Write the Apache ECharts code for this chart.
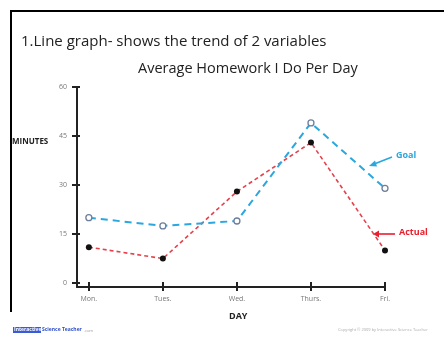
<!DOCTYPE html>
<html>
<head>
<meta charset="utf-8">
<script src="https://cdn.jsdelivr.net/npm/echarts@6/dist/echarts.min.js"></script>
<style>
  html, body { margin: 0; padding: 0; background: #fff; }
  #main { width: 444px; height: 337px; }
</style>
</head>
<body>
<div id="main"></div>
<script>
const days = ['Mon.', 'Tues.', 'Wed.', 'Thurs.', 'Fri.']
const goal = [20, 17.5, 19, 49, 29]
const actual = [11, 7.5, 28, 43, 10]
const yTicks = [0, 15, 30, 45, 60]
const xTicks = [0, 1, 2, 3, 4]

const font = '"Open Sans", "Noto Sans", sans-serif'

function pairs(vals) {
  return vals.map(function (v, i) { return [i, v] })
}

// the second copy of each axis only draws the inner half of the ticks
function xAxisDef(inner) {
  return {
    type: 'value',
    position: 'bottom',
    min: -0.16,
    max: 4,
    splitLine: { show: false },
    axisLine: { show: !inner, onZero: false, lineStyle: { color: '#222', width: 2 } },
    axisTick: { customValues: xTicks, length: inner ? 5 : 4, inside: inner, lineStyle: { color: '#222', width: 2 } },
    axisLabel: {
      show: !inner,
      customValues: xTicks,
      formatter: function (v) { return days[Math.round(v)] },
      color: '#777', fontSize: 7, fontFamily: font, margin: 8
    }
  }
}
function yAxisDef(inner) {
  return {
    type: 'value',
    position: 'left',
    min: -1.2,
    max: 60,
    splitLine: { show: false },
    axisLine: { show: !inner, onZero: false, lineStyle: { color: '#222', width: 2 } },
    axisTick: { customValues: yTicks, length: inner ? 3 : 5, inside: inner, lineStyle: { color: '#222', width: 2 } },
    axisLabel: { show: !inner, customValues: yTicks, color: '#777', fontSize: 7, fontFamily: font, margin: 10 }
  }
}

const chart = echarts.init(document.getElementById('main'))
chart.setOption({
  animation: false,
  backgroundColor: '#fff',
  grid: { left: 77, right: 59, top: 87, bottom: 50 },
  xAxis: [xAxisDef(false), xAxisDef(true)],
  yAxis: [yAxisDef(false), yAxisDef(true)],
  series: [
    {
      name: 'Goal',
      type: 'line',
      data: pairs(goal),
      symbol: 'circle',
      symbolSize: 6,
      lineStyle: { color: '#2aa7df', width: 2, type: [7, 5] },
      itemStyle: { color: '#fff', borderColor: '#6d7f9c', borderWidth: 1.3 },
      z: 3
    },
    {
      name: 'Actual',
      type: 'line',
      data: pairs(actual),
      symbol: 'circle',
      symbolSize: 6,
      lineStyle: { color: '#e5404c', width: 1.6, type: [4, 3] },
      itemStyle: { color: '#111', borderColor: '#111', borderWidth: 0 },
      z: 2
    }
  ],
  graphic: [
    { type: 'line', shape: { x1: 10, y1: 11, x2: 444, y2: 11 }, style: { stroke: '#000', lineWidth: 2 } },
    { type: 'line', shape: { x1: 11, y1: 10, x2: 11, y2: 312 }, style: { stroke: '#000', lineWidth: 2 } },
    { type: 'text', left: 21, top: 34, style: { text: '1.Line graph- shows the trend of 2 variables', fill: '#222', font: '15px ' + font } },
    { type: 'text', left: 138, top: 61, style: { text: 'Average Homework I Do Per Day', fill: '#222', font: '14.5px ' + font } },
    { type: 'text', left: 12, top: 138, style: { text: 'MINUTES', fill: '#222', font: 'bold 8px ' + font } },
    { type: 'text', left: 229, top: 312, style: { text: 'DAY', fill: '#222', font: 'bold 9px ' + font } },
    // Goal annotation
    { type: 'line', shape: { x1: 392, y1: 157, x2: 373, y2: 164.5 }, style: { stroke: '#2aa7df', lineWidth: 1.6 } },
    { type: 'polygon', shape: { points: [[369, 166], [375, 160.5], [377, 166.5]] }, style: { fill: '#2aa7df' } },
    { type: 'text', left: 396, top: 151, style: { text: 'Goal', fill: '#2aa7df', font: 'bold 9px ' + font } },
    // Actual annotation
    { type: 'line', shape: { x1: 395, y1: 234, x2: 378, y2: 234 }, style: { stroke: '#e8202e', lineWidth: 1.6 } },
    { type: 'polygon', shape: { points: [[373, 234], [379, 230.5], [379, 237.5]] }, style: { fill: '#e8202e' } },
    { type: 'text', left: 399, top: 228, style: { text: 'Actual', fill: '#e8202e', font: 'bold 9px ' + font } },
    // footer
    { type: 'rect', shape: { x: 13, y: 327, width: 28, height: 6 }, style: { fill: '#3b5bd6' } },
    { type: 'text', left: 14, top: 327, style: { text: 'Interactive', fill: '#fff', font: 'bold 5px ' + font } },
    { type: 'text', left: 42, top: 327, style: { text: 'Science Teacher', fill: '#2f4fc8', font: 'bold 5px ' + font } },
    { type: 'text', left: 84, top: 329, style: { text: '.com', fill: '#999', font: '4px ' + font } },
    { type: 'text', left: 338, top: 328, style: { text: 'Copyright \u00a9 2009 by Interactive Science Teacher', fill: '#aaa', font: '4px ' + font } }
  ]
})
</script>
</body>
</html>
